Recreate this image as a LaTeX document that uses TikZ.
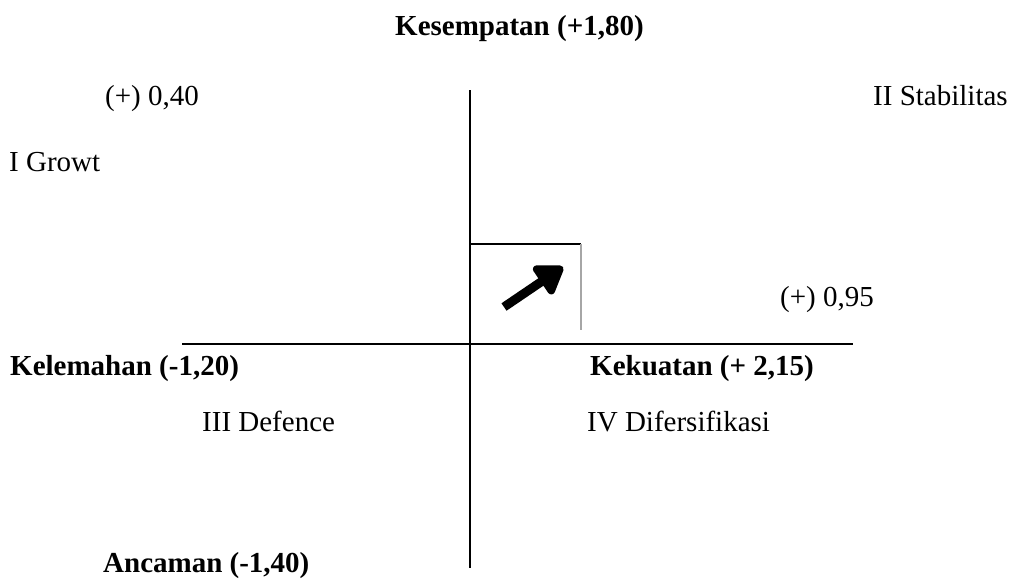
\documentclass[tikz,border=0pt]{standalone}
\usepackage{fontspec}
\setmainfont{Liberation Serif}
\usetikzlibrary{arrows.meta}
\begin{document}
\begin{tikzpicture}[x=1pt,y=-1pt,
  lbl/.style={anchor=base west,inner sep=0pt,font=\fontsize{29}{34}\selectfont},
  blbl/.style={lbl,font=\fontsize{29}{34}\selectfont\bfseries},
  axis/.style={line width=1.8pt,black}]
\useasboundingbox (0,0) rectangle (1012,581);
% axes
\coordinate (vt) at (470,90);
\coordinate (vb) at (470,568);
\coordinate (hl) at (182,344);
\coordinate (hr) at (853,344);
\draw[axis] (vt) -- (vb);
\draw[axis] (hl) -- (hr);
% box
\coordinate (bl) at (469,244);
\coordinate (br) at (581,244);
\coordinate (bb) at (581,330);
\draw[axis] (bl) -- (br);
\draw[line width=2pt,gray!70] (br) -- (bb);
% arrow
\coordinate (at) at (504,307);
\coordinate (ah) at (563,267);
\draw[line width=9pt,-{Triangle[length=30pt,width=38pt,round]}] (at) -- (ah);
% labels
\node[blbl] (kes) at (395,35) {Kesempatan (+1,80)};
\node[lbl] (p40) at (105,105) {(+) 0,40};
\node[lbl] (stab) at (873,105) {II Stabilitas};
\node[lbl] (grow) at (9,171) {I Growt};
\node[lbl] (p95) at (780,306) {(+) 0,95};
\node[blbl] (kel) at (10,375) {Kelemahan (-1,20)};
\node[blbl] (kek) at (590,375) {Kekuatan (+ 2,15)};
\node[lbl] (def) at (202,431) {III Defence};
\node[lbl] (dif) at (587,431) {IV Difersifikasi};
\node[blbl] (anc) at (103,572) {Ancaman (-1,40)};
\end{tikzpicture}
\end{document}
